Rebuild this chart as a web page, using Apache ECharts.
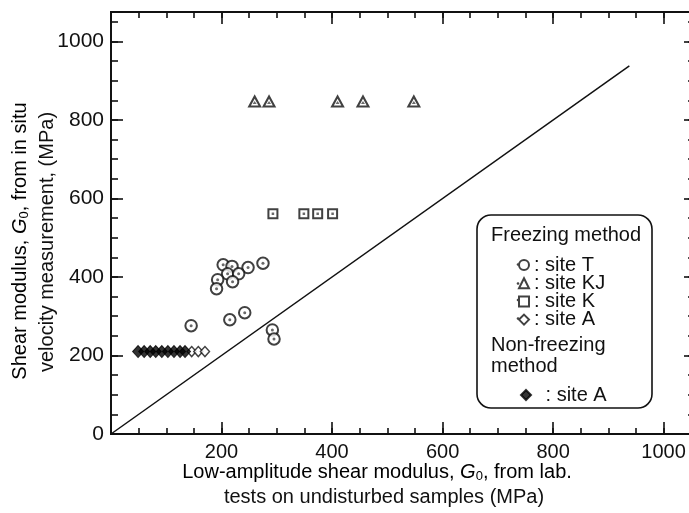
<!DOCTYPE html>
<html><head><meta charset="utf-8">
<script src="https://cdn.jsdelivr.net/npm/echarts@6/dist/echarts.min.js"></script>
<style>html,body{margin:0;padding:0;background:#fff}#c{width:689px;height:513px}</style>
</head><body><div id="c"></div>
<script>
// ---- data ----
const xTickLabels = [200, 400, 600, 800, 1000];
const yTickLabels = [0, 200, 400, 600, 800, 1000];

const siteT_x = [203, 219, 248, 275, 211, 231, 193, 220, 191, 145, 215, 242, 292, 295];
const siteT_y = [431, 427, 424, 435, 408, 408, 393, 388, 370, 276, 291, 309, 265, 242];

const siteKJ_x = [260, 286, 410, 456, 548];
const siteKJ_y = [847, 847, 847, 847, 847];

const siteK_x = [293, 349, 374, 401];
const siteK_y = [561, 561, 561, 561];

const siteAfreeze_x = [146, 158, 170];
const siteAfreeze_y = [210, 210, 210];

const siteAnon_x = [49, 60, 71, 81, 92, 103, 114, 125, 134];
const siteAnon_y = [210, 210, 210, 210, 210, 210, 210, 210, 210];

const line_x = [0, 938];
const line_y = [0, 938];

const legendNames = ['site T', 'site KJ', 'site K', 'site A (freezing)', 'site A (non-freezing)'];

// ---- chart ----
const FONT = '"Liberation Sans", Arial, Helvetica, sans-serif';
const INK = '#111';
const pairs = (xs, ys) => xs.map((x, i) => [x, ys[i]]);

const chart = echarts.init(document.getElementById('c'), null, {renderer: 'canvas'});

const X_MAX = 1055, Y_MAX = 1075;
function xAx(pos, interval, tickLen, labels) {
  return {
    type: 'value', min: 0, max: X_MAX, interval: interval, position: pos,
    axisLine: {show: true, onZero: false, lineStyle: {color: INK, width: 1.8}},
    axisTick: {show: true, inside: true, length: tickLen, lineStyle: {color: INK, width: 1.6}},
    axisLabel: {show: labels, margin: 8, fontSize: 20, fontFamily: FONT, color: INK, hideOverlap: false,
      formatter: v => xTickLabels.includes(v) ? String(v) : ''},
    splitLine: {show: false}
  };
}
function yAx(pos, interval, tickLen, labels) {
  return {
    type: 'value', min: 0, max: Y_MAX, interval: interval, position: pos,
    axisLine: {show: true, onZero: false, lineStyle: {color: INK, width: 1.8}},
    axisTick: {show: true, inside: true, length: tickLen, lineStyle: {color: INK, width: 1.6}},
    axisLabel: {show: labels, margin: 7, fontSize: 21, fontFamily: FONT, color: INK, hideOverlap: false,
      formatter: v => yTickLabels.includes(v) ? String(v) : ''},
    splitLine: {show: false}
  };
}

const ring = {color: '#fff', borderColor: INK, borderWidth: 2};
const dotStyle = {color: '#444'};

const legendDot = (x, y) => ({type: 'circle', z: 10, shape: {cx: x, cy: y, r: 1.3}, style: {fill: '#444'}});

const option = {
  animation: false,
  backgroundColor: '#fff',
  grid: {left: 111, top: 12, width: 583, height: 422, containLabel: false, outerBoundsMode: 'none'},
  xAxis: [xAx('bottom', 200, 12, true), xAx('top', 200, 12, false), xAx('bottom', 50, 6, false), xAx('top', 50, 6, false)],
  yAxis: [yAx('left', 200, 12, true), yAx('right', 200, 10, false), yAx('left', 50, 7, false), yAx('right', 50, 6, false)],
  legend: [
    {data: legendNames.slice(0, 4), orient: 'vertical', left: 513, top: 250, itemWidth: 10, itemHeight: 10, itemGap: -1.8,
      textStyle: {fontSize: 20, fontFamily: FONT, color: INK, lineHeight: 18},
      formatter: n => ': ' + n.replace(' (freezing)', ''), selectedMode: false},
    {data: legendNames.slice(4), orient: 'vertical', left: 515, top: 380, itemWidth: 10, itemHeight: 10,
      textStyle: {fontSize: 20, fontFamily: FONT, color: INK, lineHeight: 18, padding: [0, 0, 0, 4]},
      formatter: n => ' : ' + n.replace(' (non-freezing)', ''), selectedMode: false}
  ],
  series: [
    {type: 'line', data: pairs(line_x, line_y), showSymbol: false, silent: true, z: 1,
      lineStyle: {color: INK, width: 1.5}},
    {name: 'site T', type: 'scatter', data: pairs(siteT_x, siteT_y), symbol: 'circle', symbolSize: 11.5, itemStyle: ring, z: 3},
    {name: 'site T dot', type: 'scatter', data: pairs(siteT_x, siteT_y), symbol: 'circle', symbolSize: 3, itemStyle: dotStyle, z: 4, silent: true},
    {name: 'site KJ', type: 'scatter', data: pairs(siteKJ_x, siteKJ_y), symbol: 'triangle', symbolSize: [11, 10], itemStyle: ring, z: 3},
    {name: 'site KJ dot', type: 'scatter', data: pairs(siteKJ_x, siteKJ_y), symbol: 'triangle', symbolSize: [4, 3], symbolOffset: [0, 1], itemStyle: dotStyle, z: 4, silent: true},
    {name: 'site K', type: 'scatter', data: pairs(siteK_x, siteK_y), symbol: 'rect', symbolSize: 9, itemStyle: ring, z: 3},
    {name: 'site K dot', type: 'scatter', data: pairs(siteK_x, siteK_y), symbol: 'rect', symbolSize: 2.5, itemStyle: dotStyle, z: 4, silent: true},
    {name: 'site A (freezing)', type: 'scatter', data: pairs(siteAfreeze_x, siteAfreeze_y), symbol: 'diamond', symbolSize: [9, 10],
      itemStyle: {color: '#fff', borderColor: INK, borderWidth: 1.5}, z: 3},
    {name: 'site A (non-freezing)', type: 'scatter', data: pairs(siteAnon_x, siteAnon_y), symbol: 'diamond', symbolSize: [11, 12],
      itemStyle: {color: '#000', borderColor: '#000', borderWidth: 1}, z: 3}
  ],
  graphic: [
    {type: 'rect', z: 0, shape: {x: 477, y: 215, width: 175, height: 193, r: 14},
      style: {fill: '#fff', stroke: INK, lineWidth: 1.6}},
    legendDot(518, 264.5), legendDot(518, 283.5), legendDot(518, 300), legendDot(518, 318.5),
    {type: 'text', x: 491, y: 235, style: {text: 'Freezing method', font: '20px ' + FONT, fill: INK, verticalAlign: 'middle'}},
    {type: 'text', x: 491, y: 345, style: {text: 'Non-freezing', font: '20px ' + FONT, fill: INK, verticalAlign: 'middle'}},
    {type: 'text', x: 491, y: 366, style: {text: 'method', font: '20px ' + FONT, fill: INK, verticalAlign: 'middle'}},
    {type: 'text', x: 20, y: 241, rotation: Math.PI / 2,
      style: {text: '{n|Shear modulus, }{i|G}{s|0}{n|, from in situ}', align: 'center', verticalAlign: 'middle',
        rich: {n: {fontSize: 20, fontFamily: FONT, color: INK, lineHeight: 22},
               i: {fontSize: 20, fontFamily: FONT, fontStyle: 'italic', color: INK, lineHeight: 22},
               s: {fontSize: 13, fontFamily: FONT, color: INK, lineHeight: 13, verticalAlign: 'bottom'}}}},
    {type: 'text', x: 47, y: 242, rotation: Math.PI / 2,
      style: {text: 'velocity measurement, (MPa)', font: '20px ' + FONT, fill: INK, align: 'center', verticalAlign: 'middle'}},
    {type: 'text', x: 377, y: 472,
      style: {text: '{n|Low-amplitude shear modulus, }{i|G}{s|0}{n|, from lab.}', align: 'center', verticalAlign: 'middle',
        rich: {n: {fontSize: 20, fontFamily: FONT, color: INK, lineHeight: 22},
               i: {fontSize: 20, fontFamily: FONT, fontStyle: 'italic', color: INK, lineHeight: 22},
               s: {fontSize: 13, fontFamily: FONT, color: INK, lineHeight: 13, verticalAlign: 'bottom'}}}},
    {type: 'text', x: 384, y: 497,
      style: {text: 'tests on undisturbed samples (MPa)', font: '20px ' + FONT, fill: INK, align: 'center', verticalAlign: 'middle'}}
  ]
};
chart.setOption(option);
</script>
</body></html>
